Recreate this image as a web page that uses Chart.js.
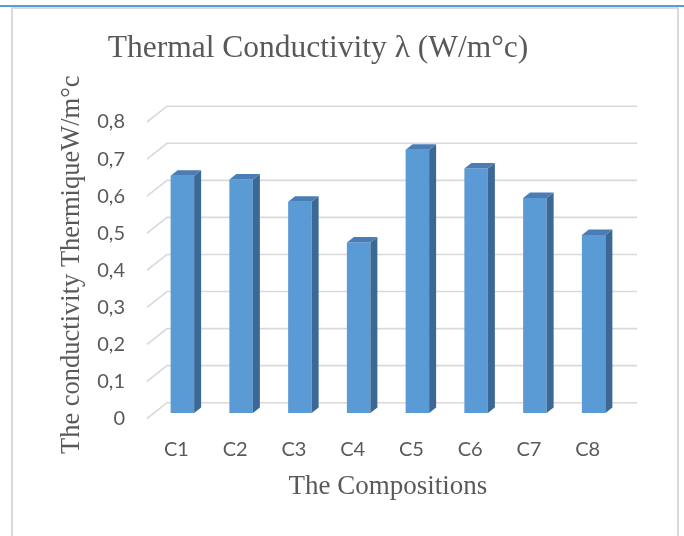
<!DOCTYPE html>
<html>
<head>
<meta charset="utf-8">
<script src="https://cdn.jsdelivr.net/npm/chart.js@4.4.0/dist/chart.umd.min.js"></script>
<style>
  html, body { margin: 0; padding: 0; background: #fff; }
  #wrap { position: relative; width: 684px; height: 536px; overflow: hidden; }
  #topline { position: absolute; left: 0; top: 5px; width: 684px; height: 2px; background: #5b9bd5; }
  #frame { position: absolute; left: 11px; top: 7px; width: 664px; height: 600px; border: 2px solid #d9d9d9; }
  canvas { position: absolute; left: 0; top: 0; }
</style>
</head>
<body>
<div id="wrap">
  <div id="topline"></div>
  <div id="frame"></div>
  <canvas id="barChart" width="684" height="536"></canvas>
</div>
<script>
const categories = ["C1", "C2", "C3", "C4", "C5", "C6", "C7", "C8"];
const conductivity = [0.64, 0.63, 0.57, 0.46, 0.71, 0.66, 0.58, 0.48];
const yMin = 0;
const yMax = 0.8;
const yStep = 0.1;

// 3d look: offsets from the bar front plane
const FRONT = { dx: -6, dy: 5.5 };
const BACK = { dx: 14, dy: -10.3 };
const SIDE = { dx: 7, dy: -5.5 };

const wall3d = {
  id: "wall3d",
  beforeDatasetsDraw(chart) {
    const { ctx, chartArea, scales } = chart;
    const y = scales.y;
    ctx.save();
    ctx.strokeStyle = "#d9d9d9";
    ctx.lineWidth = 1.6;
    y.ticks.forEach(t => {
      const py = y.getPixelForValue(t.value);
      ctx.beginPath();
      ctx.moveTo(chartArea.left + FRONT.dx, py + FRONT.dy);
      ctx.lineTo(chartArea.left + BACK.dx, py + BACK.dy);
      ctx.lineTo(chartArea.right + BACK.dx, py + BACK.dy);
      ctx.stroke();
    });
    ctx.restore();
  },
  afterDatasetsDraw(chart) {
    const ctx = chart.ctx;
    chart.getDatasetMeta(0).data.forEach(bar => {
      const { x, y, base, width } = bar.getProps(["x", "y", "base", "width"], true);
      const l = x - width / 2;
      const r = x + width / 2;
      ctx.save();
      ctx.fillStyle = "#3b6894";
      ctx.beginPath();
      ctx.moveTo(r, y);
      ctx.lineTo(r + SIDE.dx, y + SIDE.dy);
      ctx.lineTo(r + SIDE.dx, base + SIDE.dy);
      ctx.lineTo(r, base);
      ctx.closePath();
      ctx.fill();
      ctx.fillStyle = "#4a7db5";
      ctx.beginPath();
      ctx.moveTo(l, y);
      ctx.lineTo(l + SIDE.dx, y + SIDE.dy);
      ctx.lineTo(r + SIDE.dx, y + SIDE.dy);
      ctx.lineTo(r, y);
      ctx.closePath();
      ctx.fill();
      ctx.restore();
    });
  }
};

const serif = "'Liberation Serif', 'Times New Roman', serif";
const sans = "Lato, 'Open Sans', sans-serif";

new Chart(document.getElementById("barChart"), {
  type: "bar",
  data: {
    labels: categories,
    datasets: [{
      data: conductivity,
      backgroundColor: "#5b9bd5",
      borderWidth: 0,
      barPercentage: 0.4,
      categoryPercentage: 1
    }]
  },
  options: {
    responsive: false,
    animation: false,
    devicePixelRatio: 1,
    layout: { padding: { left: 13, right: 61, top: 0, bottom: 0 } },
    plugins: {
      legend: { display: false },
      tooltip: { enabled: false },
      title: {
        display: true,
        text: "Thermal Conductivity λ (W/m°c)",
        color: "#595959",
        font: { family: serif, size: 31.5, weight: "normal" },
        padding: { top: 30, bottom: 48.7 }
      }
    },
    scales: {
      x: {
        grid: { display: false, drawTicks: false },
        border: { display: false },
        ticks: { color: "#595959", font: { family: sans, size: 20 }, padding: 25, labelOffset: -6 },
        title: {
          display: true,
          text: "The Compositions",
          color: "#595959",
          font: { family: serif, size: 27, weight: "normal" },
          padding: { top: 0, bottom: 33 }
        },
        afterFit(scale) { scale.height = 123; }
      },
      y: {
        min: yMin,
        max: yMax,
        grid: { display: false, drawTicks: false },
        border: { display: false },
        ticks: {
          stepSize: yStep,
          color: "#595959",
          font: { family: sans, size: 20 },
          padding: 28,
          labelOffset: 5.5,
          callback: v => v === 0 ? "0" : v.toFixed(1).replace(".", ",")
        },
        title: {
          display: true,
          text: "The conductivity ThermiqueW/m°c",
          color: "#595959",
          font: { family: serif, size: 26.5, weight: "normal" },
          padding: { top: 43, bottom: 0 }
        },
        afterFit(scale) { scale.width = 140; }
      }
    }
  },
  plugins: [wall3d]
});
</script>
</body>
</html>
